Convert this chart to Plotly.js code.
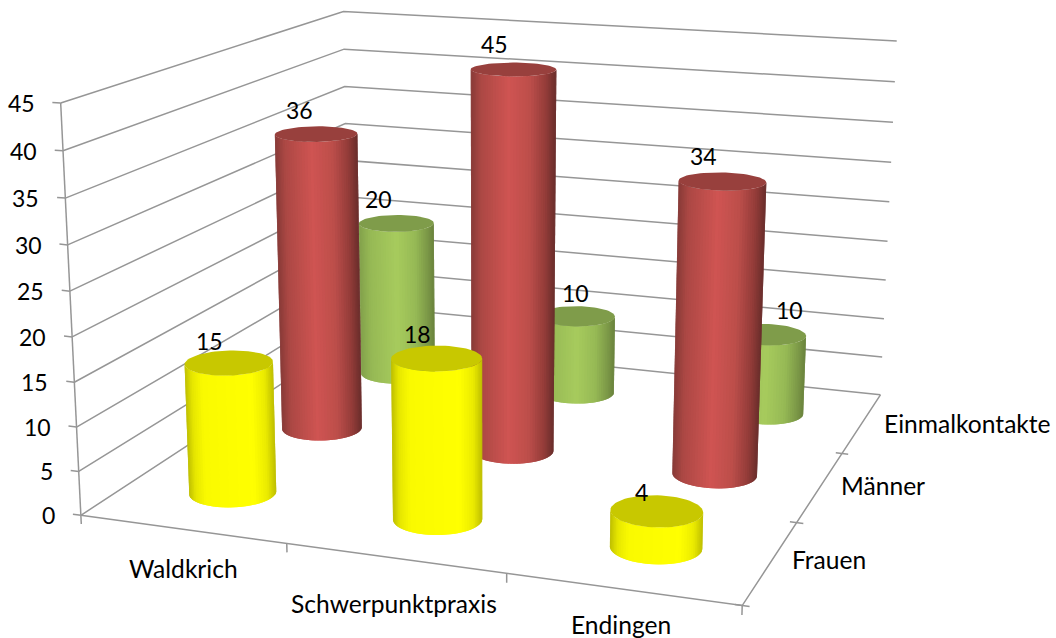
<!DOCTYPE html>
<html><head><meta charset="utf-8">
<script src="https://cdn.plot.ly/plotly-3.0.1.min.js"></script>
<style>html,body{margin:0;background:#fff}#c{width:1056px;height:638px}</style>
</head><body><div id="c"></div>
<script>
var categories=['Waldkrich','Schwerpunktpraxis','Endingen'];
var seriesNames=['Frauen','Männer','Einmalkontakte'];
var frauen=[15,18,4];
var maenner=[36,45,34];
var einmal=[20,10,10];
var zTicks=[0,5,10,15,20,25,30,35,40,45];
var W=1056,H=638;
// Perspective camera of the 3-D box (category, series, value) onto the axes
var M=[0.393478,0.241289,-0.015354,0.161715,0.021451,-0.056134,-0.278110,1.030646,-0.031953,0.089718,-0.015663];
function pr(x,y,z){z=z/15;var w=M[8]*x+M[9]*y+M[10]*z+1;return[500*(M[0]*x+M[1]*y+M[2]*z+M[3])/w,500*(M[4]*x+M[5]*y+M[6]*z+M[7])/w]}
var traces=[],grey='#969696';
function seg(pts,w){traces.push({type:'scatter',mode:'lines',x:pts.map(function(p){return p[0]}),y:pts.map(function(p){return p[1]}),line:{color:grey,width:w||1.5},hoverinfo:'skip'})}
zTicks.forEach(function(v){seg([pr(0,0,v),pr(0,3,v),pr(3,3,v)]);seg([pr(-.04,0,v),pr(0,0,v)])});
seg([pr(0,0,0),pr(0,0,45)]);seg([pr(0,0,0),pr(3,0,0),pr(3,3,0)]);
[0,1,2,3].forEach(function(i){seg([pr(i,0,0),pr(i,0,-1)])});
[0,1,2].forEach(function(i){seg([pr(3-.03,i,0),pr(3+.03,i,0)])});
function lerpColor(st,u){for(var i=1;i<st.length;i++){if(u<=st[i][0]){var f=(u-st[i-1][0])/(st[i][0]-st[i-1][0]);var a=st[i-1][1],c=st[i][1];return 'rgb('+[0,1,2].map(function(k){return Math.round(a[k]+f*(c[k]-a[k]))}).join(',')+')'}}var l=st[st.length-1][1];return 'rgb('+l.join(',')+')'}
function poly(pts,c){traces.push({type:'scatter',mode:'lines',x:pts.map(function(p){return p[0]}),y:pts.map(function(p){return p[1]}),fill:'toself',fillcolor:c,line:{color:c,width:0},hoverinfo:'skip'})}
var R=.197,N=44;
function silhouette(xc,yc,z){var lo=1e9,hi=-1e9,tl=0,tr=0;for(var i=0;i<720;i++){var t=Math.PI/2+i/720*2*Math.PI;var x=pr(xc+R*Math.cos(t),yc+R*Math.sin(t),z)[0];if(x<lo){lo=x;tl=t}if(x>hi){hi=x;tr=t}}
 while(tr<tl)tr+=2*Math.PI;return{tl:tl,tr:tr,lo:lo,hi:hi}}
function cyl(xc,yc,v,st,top){var s0=silhouette(xc,yc,0),s1=silhouette(xc,yc,v);
 for(var i=0;i<N;i++){var a=i/N,c=Math.min(1,(i+2)/N),pts=[],K=3;
  for(var k=0;k<=K;k++){var f=a+(c-a)*k/K,t=s0.tl+f*(s0.tr-s0.tl);pts.push(pr(xc+R*Math.cos(t),yc+R*Math.sin(t),0))}
  for(var k=K;k>=0;k--){var f=a+(c-a)*k/K,t=s1.tl+f*(s1.tr-s1.tl);pts.push(pr(xc+R*Math.cos(t),yc+R*Math.sin(t),v))}
  pts.push(pts[0]);
  var mid=a+.5/N,tm=s0.tl+mid*(s0.tr-s0.tl),u=(pr(xc+R*Math.cos(tm),yc+R*Math.sin(tm),0)[0]-s0.lo)/(s0.hi-s0.lo);
  poly(pts,lerpColor(st,Math.max(0,Math.min(1,u))))}
 var cap=[];for(var i=0;i<=72;i++){var t=i/72*2*Math.PI;cap.push(pr(xc+R*Math.cos(t),yc+R*Math.sin(t),v))}poly(cap,top)}
var yel=[[0,[190,190,0]],[.08,[230,230,0]],[.2,[250,250,0]],[.75,[255,255,0]],[.9,[235,235,0]],[1,[190,190,0]]];
var red=[[0,[135,58,55]],[.12,[172,72,68]],[.45,[207,84,82]],[.7,[188,78,74]],[.88,[148,60,57]],[1,[105,45,43]]];
var grn=[[0,[130,160,75]],[.15,[150,185,85]],[.5,[167,203,93]],[.75,[150,185,85]],[.92,[122,150,70]],[1,[105,130,60]]];
var sets=[[einmal,grn,'rgb(127,156,74)',2.5],[maenner,red,'rgb(152,64,61)',1.5],[frauen,yel,'rgb(200,200,0)',.5]];
sets.forEach(function(s){s[0].forEach(function(v,i){cyl(i+.5,s[3],v,s[1],s[2])})});
var ann=[];
function A2(p,t,dx,dy,anchor,fs){ann.push({x:p[0],y:p[1],xref:'x',yref:'y',text:t,showarrow:false,xanchor:anchor||'center',yanchor:'middle',xshift:dx,yshift:-dy,font:{family:'Lato',size:fs||23,color:'#000'}})}
var dxF=[-19,-19,-15],dyF=[-22,-24,-19],dxM=[-17,-19,-19],dyM=[-24,-25,-25],dxE=[-18,-1,23],dyE=[-24,-23,-24];
frauen.forEach(function(v,i){A2(pr(i+.5,.5,v),String(v),dxF[i],dyF[i])});
maenner.forEach(function(v,i){A2(pr(i+.5,1.5,v),String(v),dxM[i],dyM[i])});
einmal.forEach(function(v,i){A2(pr(i+.5,2.5,v),String(v),dxE[i],dyE[i])});
zTicks.forEach(function(v){A2(pr(0,0,v),String(v),-24,0,'right')});
var dyC=[39,45,35],dxC=[1,-1,-1];categories.forEach(function(c,i){A2(pr(i+.5,0,0),c,dxC[i],dyC[i],'center',24.6)});
var dxS=[19,19,20],dyS=[-3,-1,0];seriesNames.forEach(function(c,i){A2(pr(3,i+.5,0),c,dxS[i],dyS[i],'left',24.6)});
Plotly.newPlot('c',traces,{width:W,height:H,margin:{l:0,r:0,t:0,b:0},paper_bgcolor:'#fff',plot_bgcolor:'#fff',showlegend:false,
xaxis:{range:[0,W],visible:false,fixedrange:true},yaxis:{range:[H,0],visible:false,fixedrange:true},annotations:ann},{displayModeBar:false,staticPlot:true});
</script></body></html>
